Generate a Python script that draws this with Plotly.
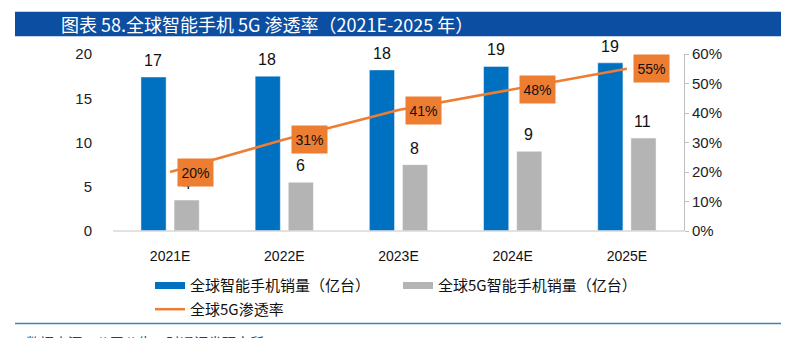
import plotly.graph_objects as go

categories = ["2021E", "2022E", "2023E", "2024E", "2025E"]
smartphone_sales = [17.4, 17.5, 18.2, 18.6, 19.0]
sales_5g = [3.5, 5.5, 7.5, 9.0, 10.5]
penetration = [20, 31, 41, 48, 55]
left_ticks = [0, 5, 10, 15, 20]
right_ticks = [0, 10, 20, 30, 40, 50, 60]

BLUE = "#0070C0"
GRAY = "#B4B4B4"
ORANGE = "#ED7D31"
FONT = "Liberation Sans, Arial, sans-serif"
CJK = "Noto Sans CJK SC, sans-serif"

W, H = 794, 338
L, R, T, B = 113, 110, 54, 104
PW, PH = W - L - R, H - T - B

def px(x):
    return (x - L) / PW

def py(y):
    return (H - B - y) / PH

fig = go.Figure()
fig.add_trace(go.Bar(x=categories, y=smartphone_sales, name="全球智能手机销量（亿台）",
                     marker=dict(color=BLUE, line=dict(color="rgba(255,255,255,0.45)", width=1)),
                     showlegend=False, yaxis="y"))
fig.add_trace(go.Bar(x=categories, y=sales_5g, name="全球5G智能手机销量（亿台）",
                     marker=dict(color=GRAY, line=dict(color="rgba(255,255,255,0.45)", width=1)),
                     showlegend=False, yaxis="y"))
fig.add_trace(go.Scatter(x=categories, y=penetration, mode="lines", name="全球5G渗透率",
                         line=dict(color=ORANGE, width=2.5), yaxis="y2", showlegend=False))

# legend entries
fig.add_trace(go.Scatter(x=[None], y=[None], mode="lines", name="全球智能手机销量（亿台）",
                         line=dict(color=BLUE, width=7), legend="legend"))
fig.add_trace(go.Scatter(x=[None], y=[None], mode="lines", name="全球5G智能手机销量（亿台）",
                         line=dict(color=GRAY, width=7), legend="legend3"))
fig.add_trace(go.Scatter(x=[None], y=[None], mode="lines", name="全球5G渗透率",
                         line=dict(color=ORANGE, width=2.5), legend="legend2"))

annotations = []
for c, v in zip(categories, smartphone_sales):
    annotations.append(dict(x=c, y=v, xref="x", yref="y", text=f"{v:.0f}", showarrow=False,
                            xshift=-17, yshift=6, yanchor="bottom",
                            font=dict(family=FONT, size=16, color="#111")))
for c, v in zip(categories, sales_5g):
    annotations.append(dict(x=c, y=v, xref="x", yref="y", text=f"{v + 0.001:.0f}", showarrow=False,
                            xshift=16, yshift=6, yanchor="bottom",
                            font=dict(family=FONT, size=16, color="#111")))
for c, v in zip(categories, penetration):
    annotations.append(dict(x=c, y=v, xref="x", yref="y2", text=f"{v}%", showarrow=False,
                            xshift=25, width=33, height=25, bgcolor=ORANGE,
                            font=dict(family=FONT, size=14, color="#111")))

annotations.append(dict(x=px(59), y=py(24), xref="paper", yref="paper", xanchor="left", yanchor="middle",
                        text="图表 58.全球智能手机 5G 渗透率（2021E-2025 年）", showarrow=False,
                        font=dict(family=CJK, size=18, color="white")))
annotations.append(dict(x=px(24), y=py(335), xref="paper", yref="paper", xanchor="left", yanchor="top",
                        text="数据来源：公司公告，财通证券研究所", showarrow=False,
                        font=dict(family=CJK, size=14, color="#1F3D7A")))

shapes = [
    dict(type="rect", xref="paper", yref="paper", x0=px(15), x1=px(781), y0=py(36), y1=py(11),
         fillcolor="#0B4EA2", line=dict(width=0), layer="below"),
    dict(type="line", xref="paper", yref="paper", x0=px(15), x1=px(781), y0=py(328), y1=py(328),
         line=dict(color="#3F7FC4", width=1.5)),
    dict(type="line", xref="paper", yref="paper", x0=0, x1=1, y0=0, y1=0,
         line=dict(color="#D9D9D9", width=1.5)),
]

legend_common = dict(orientation="h", xanchor="left", yanchor="top",
                     font=dict(family=CJK, size=15, color="#111"), bgcolor="rgba(0,0,0,0)")

fig.update_layout(
    width=W, height=H,
    margin=dict(l=L, r=R, t=T, b=B),
    paper_bgcolor="white", plot_bgcolor="white",
    barmode="group", bargap=0.42, bargroupgap=0.24,
    font=dict(family=FONT, size=14, color="#222"),
    xaxis=dict(type="category", showgrid=False, showline=False, ticks="", ticklabelstandoff=15,
               tickfont=dict(family=FONT, size=14, color="#111")),
    yaxis=dict(range=[0, 20], tickvals=left_ticks, showgrid=False, showline=False, zeroline=False,
               ticks="", tickfont=dict(family=FONT, size=15, color="#222"), ticklabelstandoff=20),
    yaxis2=dict(range=[0, 60], tickvals=right_ticks, ticktext=[f"{v}%" for v in right_ticks],
                overlaying="y", side="right",
                showgrid=False, zeroline=False, showline=True, linecolor="#BFBFBF", linewidth=1,
                ticks="outside", ticklen=4, tickcolor="#BFBFBF",
                tickfont=dict(family=FONT, size=15, color="#222")),
    legend=dict(x=px(150), y=py(273), **legend_common),
    legend3=dict(x=px(398), y=py(273), **legend_common),
    legend2=dict(x=px(150), y=py(297), **legend_common),
    annotations=annotations,
    shapes=shapes,
    showlegend=True,
)

fig.write_html("out.html")
